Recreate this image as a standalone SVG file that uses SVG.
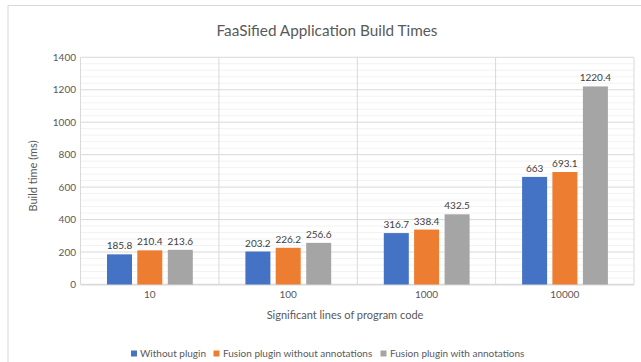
<svg xmlns="http://www.w3.org/2000/svg" width="641" height="362" viewBox="0 0 641 362">
<style>
text{font-family:Lato,"Liberation Sans",sans-serif;fill:#595959}
.tick{font-size:10px}
.ytick{font-size:10px;text-anchor:end}
.xtick{font-size:10px;text-anchor:middle}
.dl{font-size:10px;fill:#404040;text-anchor:middle}
.leg{font-size:10px}
.minor{stroke:#f2f2f2;stroke-width:1;fill:none}
.major{stroke:#d9d9d9;stroke-width:1;fill:none}
.s1{fill:#4472C4}.s2{fill:#ED7D31}.s3{fill:#A5A5A5}
</style>
<rect x="0" y="0" width="641" height="362" fill="#ffffff"/>
<rect id="chart-area" x="8" y="5.5" width="660" height="380" fill="#ffffff" stroke="#d9d9d9" stroke-width="1"/>
<g id="title"><text x="327" y="36" font-size="15.3" text-anchor="middle">FaaSified Application Build Times</text></g>
<g id="gridlines">
<path class="minor" d="M80.5 278.01H634M80.5 271.52H634M80.5 265.02H634M80.5 258.53H634M80.5 245.55H634M80.5 239.06H634M80.5 232.56H634M80.5 226.07H634M80.5 213.09H634M80.5 206.6H634M80.5 200.1H634M80.5 193.61H634M80.5 180.63H634M80.5 174.14H634M80.5 167.64H634M80.5 161.15H634M80.5 148.17H634M80.5 141.68H634M80.5 135.18H634M80.5 128.69H634M80.5 115.71H634M80.5 109.22H634M80.5 102.72H634M80.5 96.23H634M80.5 83.25H634M80.5 76.76H634M80.5 70.26H634M80.5 63.77H634"/>
<path class="major" d="M80.5 252.04H634M80.5 219.58H634M80.5 187.12H634M80.5 154.66H634M80.5 122.2H634M80.5 89.74H634M80.5 57.28H634"/>
<path class="major" d="M80.5 57.28V284.5M218.9 57.28V284.5M357.3 57.28V284.5M495.6 57.28V284.5M634 57.28V284.5"/>
</g>
<g id="axes">
<line x1="80.5" y1="284.6" x2="634" y2="284.6" stroke="#d9d9d9" stroke-width="1.6"/>
<text class="ytick" x="76" y="288">0</text>
<text class="ytick" x="76" y="255.5">200</text>
<text class="ytick" x="76" y="223">400</text>
<text class="ytick" x="76" y="190.6">600</text>
<text class="ytick" x="76" y="158.1">800</text>
<text class="ytick" x="76" y="125.7">1000</text>
<text class="ytick" x="76" y="93.2">1200</text>
<text class="ytick" x="76" y="60.8">1400</text>
<text class="xtick" x="149.7" y="298">10</text>
<text class="xtick" x="288.1" y="298">100</text>
<text class="xtick" x="426.5" y="298">1000</text>
<text class="xtick" x="564.8" y="298">10000</text>
<text x="345" y="318.5" font-size="11" text-anchor="middle">Significant lines of program code</text>
<text x="0" y="0" font-size="11" text-anchor="middle" transform="translate(37 176) rotate(-90)">Build time (ms)</text>
</g>
<g id="series-without-plugin">
<rect class="s1" x="107" y="254.34" width="25" height="30.16"/>
<rect class="s1" x="245.4" y="251.52" width="25" height="32.98"/>
<rect class="s1" x="383.8" y="233.1" width="25" height="51.4"/>
<rect class="s1" x="522.1" y="176.9" width="25" height="107.6"/>
<text class="dl" x="119.5" y="249.3">185.8</text>
<text class="dl" x="257.9" y="246.5">203.2</text>
<text class="dl" x="396.3" y="228.1">316.7</text>
<text class="dl" x="534.6" y="171.9">663</text>
</g>
<g id="series-fusion-without-annotations">
<rect class="s2" x="137.3" y="250.35" width="25" height="34.15"/>
<rect class="s2" x="275.7" y="247.79" width="25" height="36.71"/>
<rect class="s2" x="414.1" y="229.58" width="25" height="54.92"/>
<rect class="s2" x="552.4" y="172.01" width="25" height="112.49"/>
<text class="dl" x="149.8" y="245.3">210.4</text>
<text class="dl" x="288.2" y="242.8">226.2</text>
<text class="dl" x="426.6" y="224.6">338.4</text>
<text class="dl" x="564.9" y="167">693.1</text>
</g>
<g id="series-fusion-with-annotations">
<rect class="s3" x="167.8" y="249.83" width="25" height="34.67"/>
<rect class="s3" x="306.2" y="242.85" width="25" height="41.65"/>
<rect class="s3" x="444.6" y="214.31" width="25" height="70.19"/>
<rect class="s3" x="582.9" y="86.43" width="25" height="198.07"/>
<text class="dl" x="180.3" y="244.8">213.6</text>
<text class="dl" x="318.7" y="237.8">256.6</text>
<text class="dl" x="457.1" y="209.3">432.5</text>
<text class="dl" x="595.4" y="81.4">1220.4</text>
</g>
<g id="legend">
<rect class="s1" x="131" y="350.5" width="6" height="6"/>
<text class="leg" x="140" y="356.5">Without plugin</text>
<rect class="s2" x="213.5" y="350.5" width="6" height="6"/>
<text class="leg" x="223" y="356.5">Fusion plugin without annotations</text>
<rect class="s3" x="380.5" y="350.5" width="6" height="6"/>
<text class="leg" x="390" y="356.5">Fusion plugin with annotations</text>
</g>
</svg>
